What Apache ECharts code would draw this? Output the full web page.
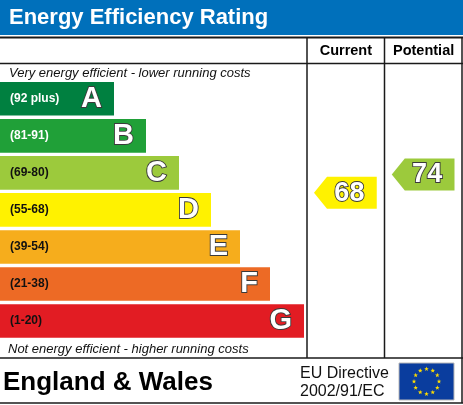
<!DOCTYPE html>
<html><head><meta charset="utf-8">
<script src="https://cdn.jsdelivr.net/npm/echarts@6/dist/echarts.min.js"></script>
<style>html,body{margin:0;padding:0;background:#fff}#c{width:463px;height:405px}</style>
</head><body><div id="c"></div>
<script>
// ---- data ----
const bandLetters = ['A','B','C','D','E','F','G'];
const bandRanges = ['(92 plus)','(81-91)','(69-80)','(55-68)','(39-54)','(21-38)','(1-20)'];
const bandMin = [92,81,69,55,39,21,1];
const bandMax = [100,91,80,68,54,38,20];
const bandLength = [114,146,179,211,240,270,304];
const ratingColumns = ['Current','Potential'];
const ratingValues = [68,74];
const titleText = 'Energy Efficiency Rating';
const topNote = 'Very energy efficient - lower running costs';
const bottomNote = 'Not energy efficient - higher running costs';
const regionText = 'England & Wales';
const directiveLines = ['EU Directive','2002/91/EC'];

// ---- styles ----
const bandColors = ['#008040','#20a038','#9cca3c','#fff200','#f6ad1c','#ed6a25','#e21c23'];
const FONT = '"Liberation Sans", Arial, sans-serif';
const lineCol = '#1a1a1a';

function bandOf(v){ for(let i=0;i<bandMin.length;i++){ if(v>=bandMin[i]) return i; } return bandMin.length-1; }

const chart = echarts.init(document.getElementById('c'), null, {renderer:'canvas'});

const gridTop = 80.3, gridH = 259.2;

// EU flag stars
const flag = {x:399, y:363, w:55, h:37};
const starEls = [];
(function(){
  const cx = flag.x + flag.w/2, cy = flag.y + flag.h/2, R = 12.5, ro = 2.4, ri = 1.0;
  for(let k=0;k<12;k++){
    const a = k*Math.PI/6;
    const sx = cx + R*Math.sin(a), sy = cy - R*Math.cos(a);
    const pts = [];
    for(let j=0;j<10;j++){
      const r = j%2===0 ? ro : ri;
      const b = j*Math.PI/5;
      pts.push([sx + r*Math.sin(b), sy - r*Math.cos(b)]);
    }
    starEls.push({type:'polygon', shape:{points:pts}, style:{fill:'#ffdd00'}, silent:true, z:12});
  }
})();

function hline(y, x1, x2, w){ return {type:'line', shape:{x1:x1,y1:y,x2:x2,y2:y}, style:{stroke:lineCol, lineWidth:w||1.5}, silent:true, z:5}; }
function vline(x, y1, y2, w){ return {type:'line', shape:{x1:x,y1:y1,x2:x,y2:y2}, style:{stroke:lineCol, lineWidth:w||1.5}, silent:true, z:5}; }

const option = {
  animation:false,
  backgroundColor:'#fff',
  grid:[
    {left:0, top:gridTop, width:463, height:gridH},
    {left:307, top:gridTop, width:155.5, height:gridH}
  ],
  xAxis:[
    {type:'value', gridIndex:0, min:0, max:463, show:false},
    {type:'category', gridIndex:1, data:ratingColumns, position:'top',
      axisLine:{show:false}, axisTick:{show:false}, splitLine:{show:false},
      axisLabel:{show:true, interval:0, hideOverlap:false, margin:22, color:'#000', fontFamily:FONT, fontWeight:'bold', fontSize:14.5}}
  ],
  yAxis:[
    {type:'category', gridIndex:0, data:bandLetters, inverse:true, show:false},
    {type:'category', gridIndex:1, data:bandLetters, inverse:true, show:false}
  ],
  series:[
    {
      type:'bar', xAxisIndex:0, yAxisIndex:0, barWidth:33.6, silent:true,
      data: bandLength.map((v,i)=>({value:v, itemStyle:{color:bandColors[i]},
        label:{color: i<2 ? '#fff' : '#111'}})),
      label:{show:true, position:'insideLeft', distance:10, fontFamily:FONT, fontWeight:'bold', fontSize:12,
        formatter:p=>bandRanges[p.dataIndex]}
    },
    {
      type:'bar', xAxisIndex:0, yAxisIndex:0, barWidth:33.6, barGap:'-100%', silent:true,
      data: bandLength.slice(),
      itemStyle:{color:'rgba(0,0,0,0)'},
      label:{show:true, position:'insideRight', distance:12, fontFamily:FONT, fontWeight:'bold', fontSize:29,
        color:'#fff', textBorderColor:'#3a3a3a', textBorderWidth:1.8,
        formatter:p=>bandLetters[p.dataIndex]},
      z:3
    },
    {
      type:'custom', xAxisIndex:1, yAxisIndex:1, silent:true,
      data: ratingValues.map((v,i)=>[i, bandOf(v), v]),
      renderItem:function(params, api){
        const col = api.value(0), band = api.value(1), v = api.value(2);
        const c = api.coord([col, band]);
        const cellW = api.size([1,0])[0];
        const bandH = api.size([0,1])[1];
        const f = (bandMax[band] - v + 0.5)/(bandMax[band]-bandMin[band]+1);
        const yc = c[1] - bandH/2 + f*bandH;
        const x0 = c[0] - cellW/2 + 7, x1 = c[0] + cellW/2 - 8;
        const half = 16, tip = 13;
        return {type:'group', children:[
          {type:'polygon', shape:{points:[[x0,yc],[x0+tip,yc-half],[x1,yc-half],[x1,yc+half],[x0+tip,yc+half]]},
            style:{fill:bandColors[band]}},
          {type:'text', style:{text:String(v), x:(x0+x1)/2+4, y:yc+0.5, align:'center', verticalAlign:'middle',
            fill:'#fff', stroke:'#3a3a3a', lineWidth:1.8, font:'bold 27px '+FONT}}
        ]};
      },
      z:4
    }
  ],
  graphic:{elements:[
    {type:'rect', shape:{x:0,y:0,width:463,height:35}, style:{fill:'#0070bb'}, silent:true, z:1},
    {type:'text', style:{text:titleText, x:9, y:17.5, verticalAlign:'middle', fill:'#fff', font:'bold 22px '+FONT}, silent:true, z:6},
    hline(37.5, 0, 463, 1.8),
    hline(63.5, 0, 463, 1.5),
    vline(307, 37.5, 358, 1.5),
    vline(384.5, 37.5, 358, 1.5),
    vline(462, 37.5, 403, 1.5),
    hline(358, 0, 463, 1.5),
    hline(403, 0, 463, 1.5),
    {type:'text', style:{text:topNote, x:9, y:73.5, verticalAlign:'middle', fill:'#111', font:'italic 13px '+FONT}, silent:true, z:6},
    {type:'text', style:{text:bottomNote, x:8, y:349, verticalAlign:'middle', fill:'#111', font:'italic 13px '+FONT}, silent:true, z:6},
    {type:'text', style:{text:regionText, x:3, y:383, verticalAlign:'middle', fill:'#000', font:'bold 26px '+FONT}, silent:true, z:6},
    {type:'text', style:{text:directiveLines[0], x:300, y:373.5, verticalAlign:'middle', fill:'#111', font:'16px '+FONT}, silent:true, z:6},
    {type:'text', style:{text:directiveLines[1], x:300, y:392, verticalAlign:'middle', fill:'#111', font:'16px '+FONT}, silent:true, z:6},
    {type:'rect', shape:{x:flag.x,y:flag.y,width:flag.w,height:flag.h}, style:{fill:'#0a3d9e', stroke:'#b8b8b8', lineWidth:1}, silent:true, z:11}
  ].concat(starEls)}
};
chart.setOption(option);
</script>
</body></html>
